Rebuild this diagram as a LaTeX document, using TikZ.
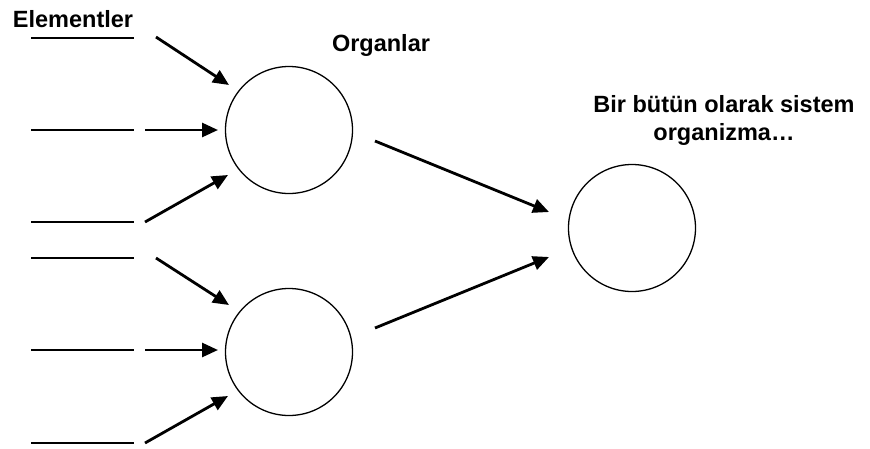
\documentclass[tikz,border=0pt]{standalone}
\usepackage{fontspec}
\setmainfont{Liberation Sans}
\usetikzlibrary{arrows.meta}
\begin{document}
\begin{tikzpicture}[x=1pt,y=-1pt,
  organ/.style={draw,circle,line width=1.3pt,minimum size=127pt,inner sep=0pt},
  elem/.style={line width=1.6pt},
  flow/.style={line width=2.8pt,-{Triangle[length=16pt,width=14pt]}},
  lbl/.style={font=\bfseries\fontsize{23.5}{28}\selectfont,align=center,inner sep=0pt}]
\useasboundingbox (0,0) rectangle (870,448);
\node[lbl] (telem) at (73,19) {Elementler};
\node[lbl] (torg) at (381,45) {Organlar};
\node[lbl] (tsys) at (724,120) {Bir bütün olarak sistem\\organizma…};
\node[organ] (c1) at (289,130) {};
\node[organ] (c2) at (289,352) {};
\node[organ] (c3) at (632,228) {};
% element lines
\foreach \i/\y in {1/38,2/130,3/222,4/258,5/350,6/443}{
  \coordinate (la\i) at (31,\y);
  \coordinate (lb\i) at (134,\y);
  \draw[elem] (la\i) -- (lb\i);
}
% arrows to organs
\coordinate (a1s) at (156,37); \coordinate (a1e) at (229,85);
\coordinate (a2s) at (145,130); \coordinate (a2e) at (218,130);
\coordinate (a3s) at (145,222); \coordinate (a3e) at (228,175);
\coordinate (a4s) at (156,258); \coordinate (a4e) at (229,305);
\coordinate (a5s) at (145,350); \coordinate (a5e) at (218,350);
\coordinate (a6s) at (145,443); \coordinate (a6e) at (228,396);
\foreach \i in {1,...,6}{\draw[flow] (a\i s) -- (a\i e);}
% arrows to system
\coordinate (b1s) at (375,141); \coordinate (b1e) at (549,212);
\coordinate (b2s) at (375,328); \coordinate (b2e) at (549,257);
\draw[flow] (b1s) -- (b1e);
\draw[flow] (b2s) -- (b2e);
\end{tikzpicture}
\end{document}
